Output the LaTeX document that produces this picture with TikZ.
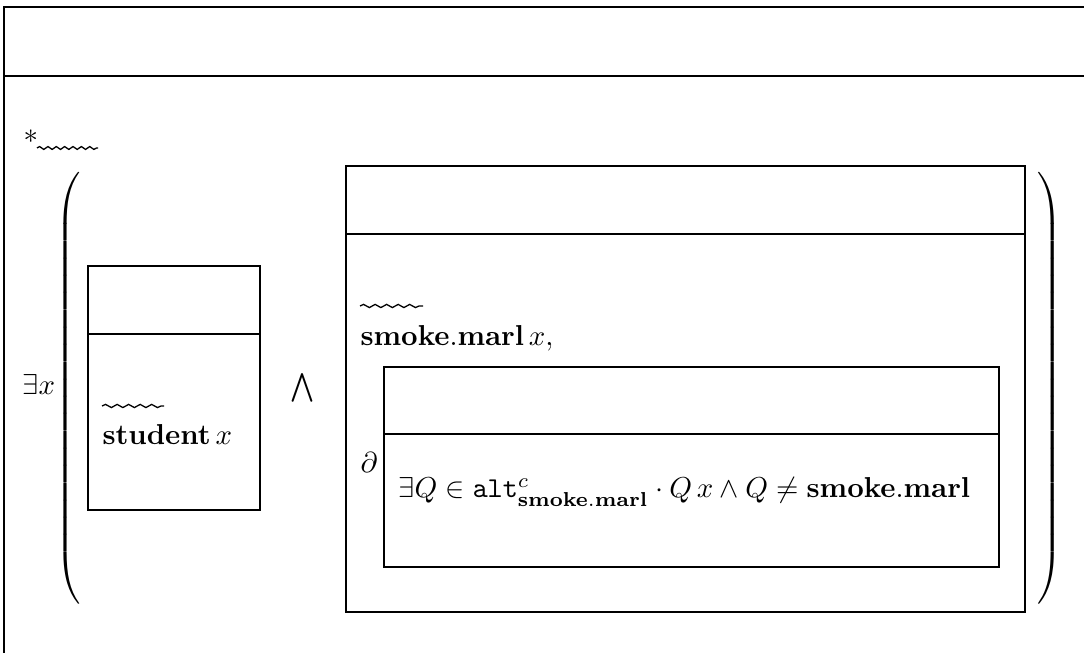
\documentclass[tikz,border=0pt]{standalone}
\usetikzlibrary{decorations.pathmorphing}
\begin{document}
\begin{tikzpicture}[x=0.3472pt,y=-0.3472pt,
  frame/.style={line width=0.95pt},
  wavy/.style={line width=0.45pt, decorate,
    decoration={snake, amplitude=0.55pt, segment length=4pt}},
  starwave/.style={wavy, decoration={snake, amplitude=0.5pt, segment length=2.9pt}},
  txt/.style={inner sep=0pt, anchor=base west},
  delim/.style={inner sep=0pt}]
\useasboundingbox (0,0) rectangle (1084,653);

% outer DRS frame, running off the page on the right and bottom
\begin{scope}
  \clip (0,0) rectangle (1084,653);
  \draw[frame] (4,700) -- (4,7) -- (1120,7);
  \draw[frame] (4,76) -- (1120,76);
\end{scope}

% star marker with its wavy underline
\node[txt] (star) at (23,152) {*};
\coordinate (sw1) at (37,148);
\coordinate (sw2) at (98,148);
\draw[starwave] (sw1) -- (sw2);

% big parentheses around the conjunction
\node[delim] (lp) at (70,388) {$\left(\vcenter{\hrule height 150pt width 0pt}\right.$};
\node[delim] (rp) at (1048,388) {$\left.\vcenter{\hrule height 150pt width 0pt}\right)$};

\node[txt] (ex) at (22,395) {$\exists x$};

% restrictor box
\draw[frame] (88,266) rectangle (260,510);
\draw[frame] (88,334) -- (260,334);
\coordinate (w1a) at (102,406);
\coordinate (w1b) at (164,406);
\draw[wavy] (w1a) -- (w1b);
\node[txt] (stud) at (102,445) {$\mathbf{student}\,x$};

\node[delim] (conj) at (303,388) {$\bigwedge$};

% scope box
\draw[frame] (346,166) rectangle (1025,612);
\draw[frame] (346,234) -- (1025,234);
\coordinate (w2a) at (360,306);
\coordinate (w2b) at (423,306);
\draw[wavy] (w2a) -- (w2b);
\node[txt] (smoke) at (360,346) {$\mathbf{smoke.marl}\,x,$};

\node[txt] (part) at (360,473) {$\partial$};

% presupposition box
\draw[frame] (384,367) rectangle (999,567);
\draw[frame] (384,434) -- (999,434);
\node[txt] (alt) at (398,498)
  {$\exists Q\in\mathtt{alt}^{c}_{\mathbf{smoke.marl}}\cdot Q\,x\wedge Q\neq\mathbf{smoke.marl}$};
\end{tikzpicture}
\end{document}
